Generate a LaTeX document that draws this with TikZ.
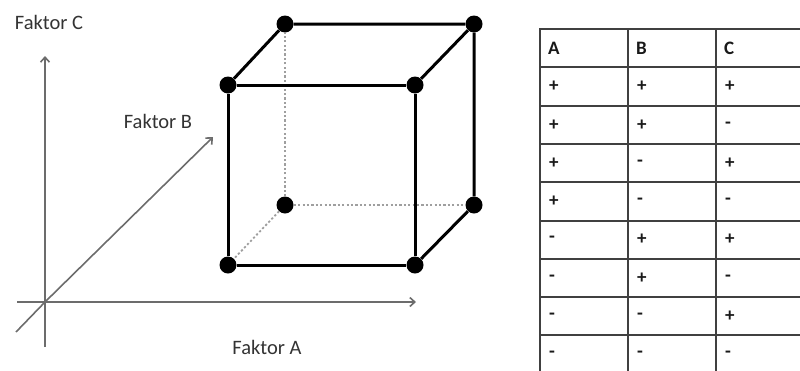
\documentclass[tikz,border=0pt]{standalone}
\usepackage{fontspec}
\setmainfont{Carlito}
\usetikzlibrary{arrows.meta}
\begin{document}
\begin{tikzpicture}[x=1pt,y=-1pt,
 vtx/.style={circle,fill=black,inner sep=0pt,minimum size=17pt},
 edge/.style={line width=3pt,black},
 hidden/.style={line width=1.8pt,gray!75,dash pattern=on 2.2pt off 2.2pt},
 axis/.style={line width=1.6pt,gray!85!black,-{Straight Barb[length=5pt,width=9pt]}},
 axisline/.style={line width=1.6pt,gray!85!black},
 lbl/.style={font=\fontsize{20.5}{24}\selectfont,text=black!80,inner sep=0pt},
 gridline/.style={line width=2pt,gray!50!black},
 cell/.style={font=\fontsize{19}{22}\selectfont\bfseries,anchor=west,inner sep=0pt,text=black!90}]
\useasboundingbox (0,0) rectangle (800,370);
% axes
\coordinate (O) at (45,302);
\coordinate (cbot) at (45,347);
\coordinate (ctop) at (45,56);
\coordinate (aleft) at (17,302);
\coordinate (aright) at (416,302);
\coordinate (bbot) at (16,332);
\coordinate (btop) at (213,137);
\draw[axisline] (cbot) -- (O);
\draw[axis] (O) -- (ctop);
\draw[axisline] (aleft) -- (O);
\draw[axis] (O) -- (aright);
\draw[axisline] (bbot) -- (O);
\draw[axis] (O) -- (btop);
\node[lbl] (lc) at (49,22) {Faktor C};
\node[lbl] (lb) at (158,121) {Faktor B};
\node[lbl] (la) at (267,347) {Faktor A};
% cube
\node[vtx] (ftl) at (228,85) {};
\node[vtx] (ftr) at (415,85) {};
\node[vtx] (fbl) at (228,265) {};
\node[vtx] (fbr) at (415,265) {};
\node[vtx] (btl) at (285,24) {};
\node[vtx] (btr) at (474,24) {};
\node[vtx] (bbl) at (285,205) {};
\node[vtx] (bbr) at (474,205) {};
\draw[hidden] (bbl) -- (btl);
\draw[hidden] (bbl) -- (bbr);
\draw[hidden] (bbl) -- (fbl);
\draw[edge] (ftl) -- (ftr) -- (fbr) -- (fbl) -- (ftl);
\draw[edge] (ftl) -- (btl) -- (btr) -- (ftr);
\draw[edge] (btr) -- (bbr) -- (fbr);
% table
\foreach \x in {540,628,716} \draw[gridline] (\x,29) -- (\x,371);
\foreach \k in {0,...,8} \draw[gridline] (539,29+38.3*\k) -- (801,29+38.3*\k);
\node[cell] (hA) at (548,48.2) {A};
\node[cell] (hB) at (636,48.2) {B};
\node[cell] (hC) at (724,48.2) {C};
\foreach \a/\b/\c [count=\i] in {+/+/+,+/+/-,+/-/+,+/-/-,-/+/+,-/+/-,-/-/+,-/-/-}{
  \node[cell] (a\i) at (549,48.2+38.3*\i) {\a};
  \node[cell] (b\i) at (637,48.2+38.3*\i) {\b};
  \node[cell] (c\i) at (725,48.2+38.3*\i) {\c};
}
\end{tikzpicture}
\end{document}
